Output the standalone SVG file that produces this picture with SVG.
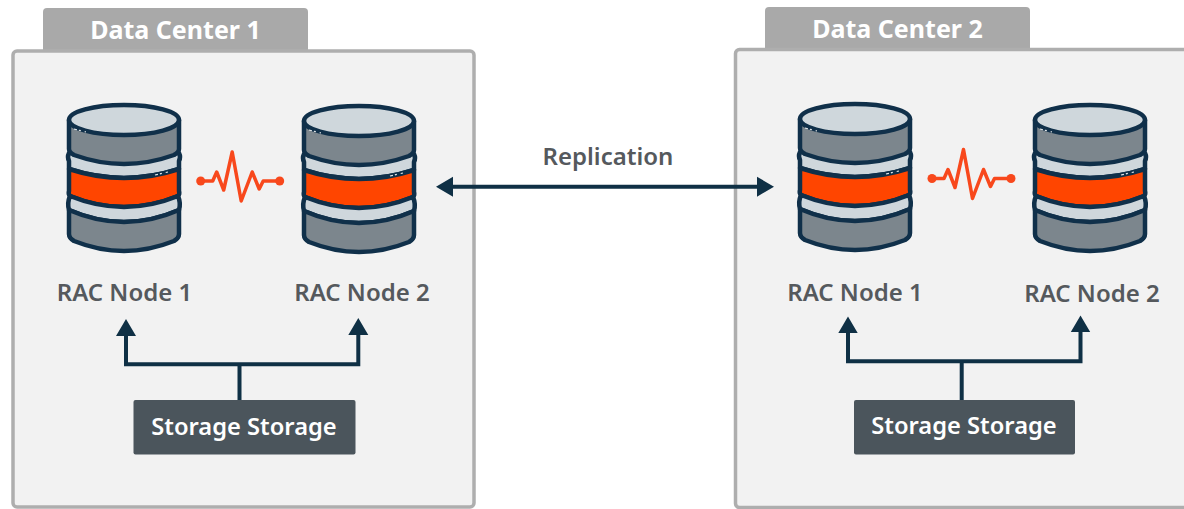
<svg xmlns="http://www.w3.org/2000/svg" width="1184" height="509" viewBox="0 0 1184 509">
<style>
text{font-family:"Noto Sans","Liberation Sans",sans-serif;font-weight:600;text-anchor:middle}
.panel{fill:#f2f2f2;stroke:#aeaeae;stroke-width:3.5}
.tab{fill:#a9a9a9}
.tabt{fill:#fff;font-size:25px;font-weight:700}
.lbl{fill:#55595d;font-size:24px}
.box{fill:#4b555c}
.boxt{fill:#fff;font-size:23.700px}
.line{fill:none;stroke:#0f3045;stroke-width:4}
.head{fill:#0f3045}
.o{fill:#ff4500}
.g{fill:#7c868d}
.l{fill:#cfd7dc}
.s{stroke:#10304a;stroke-width:4.500;stroke-linejoin:round}
.nick{fill:none;stroke:#e8ecee;stroke-width:1.200;stroke-dasharray:3 2 2 4}
.pulse{fill:none;stroke:#f8481c;stroke-width:3.500;stroke-linejoin:round;stroke-linecap:round}
.dot{fill:#f8481c}
</style>
<defs>
<g id="db">
<path class="l s" d="M-55,50 Q-57,54 -55,58 V66 Q0,84 55,66 V58 Q57,54 55,50 Z"/>
<path class="o s" d="M-55,66 Q0,84 55,66 V88 Q56,91 54,93 Q0,115 -54,93 Q-56,91 -55,88 Z"/>
<path class="l s" d="M-54,93 Q-57,100 -55,107 Q0,131 55,107 Q57,100 54,93 Q0,115 -54,93 Z"/>
<path class="g s" d="M-55,107 Q0,131 55,107 V131 Q55,135 50,138 Q0,158 -50,138 Q-55,135 -55,131 Z"/>
<path class="g s" d="M-55,17 V46 Q-55,49 -50,52 Q0,70 50,52 Q55,49 55,46 V17 Z"/>
<ellipse class="l s" cx="0" cy="17" rx="55" ry="15"/>
<path class="nick" d="M-50,26 L-38,29 M31,72 L44,69"/>
</g>
<g id="pulse">
<path class="pulse" d="M0,0 H12 L16,-9 L23,9 L31.500,-29 L40.500,20 L51.500,-9 L58.500,8 L62.500,0 H79"/>
<circle class="dot" cx="0" cy="0" r="4.500"/><circle class="dot" cx="79" cy="0" r="4.500"/>
</g>
</defs>
<g id="dc1">
<rect class="tab" x="43" y="8" width="265" height="46" rx="4"/>
<rect class="panel" x="13" y="51" width="461" height="456" rx="4"/>
<text class="tabt" x="175.500" y="39">Data Center 1</text>
</g>
<g id="dc2">
<rect class="tab" x="765" y="7" width="265" height="46" rx="4"/>
<rect class="panel" x="735.500" y="49.500" width="470" height="458" rx="4"/>
<text class="tabt" x="897.500" y="38">Data Center 2</text>
</g>
<g id="connectors">
<path class="line" d="M126,334 V364.300 H358.300 V334 M239.500,364 V400"/>
<path class="head" d="M116,336 L126,319 L136,336 Z M348.300,335 L358.300,318 L368.300,335 Z"/>
<path class="line" d="M848,331 V361.300 H1080.500 V331 M961.700,361 V400"/>
<path class="head" d="M838.300,333 L848,316.500 L857.700,333 Z M1070.800,332 L1080.500,315.500 L1090.200,332 Z"/>
<path class="line" d="M450,186.700 H760"/>
<path class="head" d="M436,186.700 L453,176.700 V196.700 Z M774,186.700 L757,176.700 V196.700 Z"/>
<use href="#pulse" x="200.700" y="181"/>
<use href="#pulse" x="932" y="178.500"/>
</g>
<g id="n1"><use href="#db" x="124" y="103"/><text class="lbl" x="124.500" y="301">RAC Node 1</text></g>
<g id="n2"><use href="#db" x="359" y="104"/><text class="lbl" x="362" y="301">RAC Node 2</text></g>
<g id="n3"><use href="#db" x="855" y="102"/><text class="lbl" x="855" y="301">RAC Node 1</text></g>
<g id="n4"><use href="#db" x="1090" y="103"/><text class="lbl" x="1092" y="302">RAC Node 2</text></g>
<g id="storage1"><rect class="box" x="133.500" y="400" width="222" height="54.500" rx="2"/><text class="boxt" x="244" y="435">Storage Storage</text></g>
<g id="storage2"><rect class="box" x="854" y="400" width="221" height="54.500" rx="2"/><text class="boxt" x="964" y="434">Storage Storage</text></g>
<g id="replication"><text class="lbl" x="608" y="165">Replication</text></g>
</svg>
